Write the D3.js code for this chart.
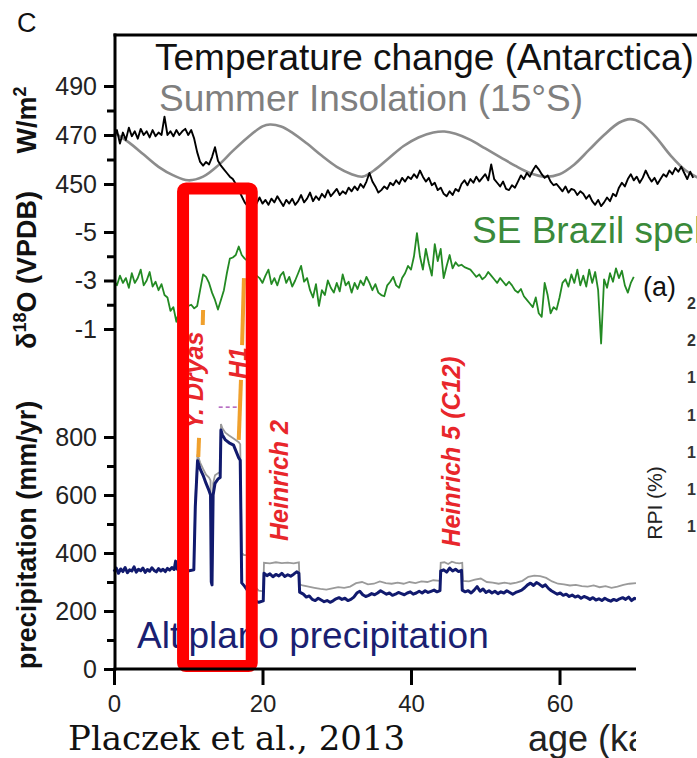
<!DOCTYPE html>
<html><head><meta charset="utf-8">
<script src="https://cdn.jsdelivr.net/npm/d3@7"></script>
<style>body{margin:0;background:#fff} svg{display:block}</style>
</head><body>
<script>
// ---------------- DATA ----------------
const xTicks = [0, 20, 40, 60];
const insTicksMajor = [450, 470, 490], insTicksMinor = [460, 480];
const o18TicksMajor = [-5, -3, -1], o18TicksMinor = [-4, -2];
const precTicksMajor = [0, 200, 400, 600, 800], precTicksMinor = [100, 300, 500, 700];

// Summer insolation 15°S (W/m2)
const insAge = [0,2,4,6,8,10,12,14,16,18,20,21,22.5,24,26,28,30,32,33.5,35,37,39,41,43,44.5,46,48,50,52,54,56,58,60,62,64,66,68,69.5,71,73,75,77,79];
const insVal = [471,467,462,457,453.5,451.5,453,457.5,463.5,469,473.5,474.3,473.5,471,466.5,461.5,457,454,453,455.5,460.5,465.5,469,471,471.4,470.5,468,464.5,461,457.5,454.5,453,454,458,464,470,475,476.5,475,469,461.5,455.5,452];

// Antarctic temperature (plotted on W/m2 axis), sampled every 0.4 ka from 0
const tempStep = 0.4;
const tempVal = [
 469,472,466.5,471,468,473,469.5,471.5,468.5,472.5,470,471.5,469,472,469.5,471,470,477.5,470,471.5,469.5,472,470,471.5,472.5,
 470,472,468.5,463,459,457.5,459,458,461,465,459.5,457.5,456,454.5,453,452,450,447.5,445,442.5,441,441.5,443,442,444.5,
 442,443.5,441.5,444,442.5,445,443,441,443.5,442,444,441.5,443,445.5,442.5,444,446.5,443,445,443.5,446,444.5,447.5,445,446.5,
 448,445.5,447,446,448.5,447,449,447.5,450,448.5,451,454.5,451,449,446.5,447.5,449,448,450.5,449.5,451.5,450,452.5,451,453,
 452,454,452.5,455.5,453,451,452.5,449.5,450.5,447.5,448.5,446,445,447,445.5,448,447,450,451.5,449.5,452,450.5,453,451,452.5,
 454,451.5,458,452,450.5,449,451,448,447.5,449.5,448.5,451,453.5,452,454.5,453,455.5,457.5,456,454,452.5,453.5,451,449.5,450,
 448.5,447,449,446.5,448,447.5,445.5,447,446,444,445.5,443,441.5,443.5,441,442.5,444.5,443,446,445,448.5,450.5,449,452,454,
 451.5,453,450.5,452.5,455.5,453,451,452.5,450,452,454,453,455.5,454,456.5,455,457,454.5,452,455,452.5
];

// SE Brazil speleothem d18O (permil VPDB), sampled every 0.4 ka from 0
const o18Step = 0.4;
const o18Val = [
 -3.0,-2.8,-3.2,-2.9,-3.1,-2.7,-3.3,-2.9,-3.1,-3.45,-2.8,-3.0,-3.35,-2.75,-2.95,-2.6,-2.85,-2.4,-2.3,-1.75,-1.9,-1.3,-1.8,-2.0,-2.05,
 -1.95,-2.0,-1.85,-1.95,-2.6,-3.25,-3.15,-2.9,-2.5,-2.2,-1.8,-2.2,-2.6,-3.3,-3.9,-3.95,-4.05,-4.4,-4.05,-3.9,-3.8,-3.6,-3.4,-3.2,-3.1,
 -2.9,-3.2,-3.45,-2.85,-3.1,-2.8,-3.2,-3.35,-2.9,-3.15,-2.75,-3.0,-3.3,-3.6,-2.95,-3.1,-2.6,-2.3,-2.85,-1.95,-2.6,-2.4,-3.0,-2.7,-2.5,
 -2.9,-2.55,-3.25,-2.8,-2.95,-2.5,-2.9,-2.65,-3.0,-2.8,-3.15,-2.9,-2.6,-2.85,-2.5,-2.4,-2.35,-2.8,-2.95,-3.15,-2.8,-2.7,-3.1,-3.3,-3.6,
 -3.45,-4.0,-4.95,-4.0,-3.45,-4.3,-3.7,-3.2,-4.5,-3.8,-4.3,-3.1,-3.6,-4.05,-3.5,-3.75,-3.6,-3.65,-3.55,-3.5,-3.45,-3.3,-3.15,-3.25,-3.05,
 -3.15,-3.35,-3.2,-3.05,-2.9,-3.1,-2.95,-2.8,-2.95,-2.8,-2.6,-2.5,-2.65,-2.35,-2.2,-2.05,-1.9,-2.3,-1.65,-1.5,-2.9,-2.4,-1.65,-1.9,-1.8,
 -2.3,-2.9,-3.05,-2.75,-3.25,-2.9,-3.45,-2.8,-3.2,-2.75,-3.45,-2.9,-3.35,-2.6,-0.4,-3.05,-2.7,-3.3,-2.95,-3.5,-3.1,-3.4,-2.8,-2.5,-2.9,
 -3.15
];

// Altiplano precipitation (mm/yr), best estimate
const precAge = [0,0.3,0.6,0.9,1.2,1.5,1.8,2.1,2.4,2.7,3.0,3.3,3.6,3.9,4.2,4.5,4.8,5.1,5.4,5.7,6.0,6.3,6.6,6.9,7.2,7.5,7.8,8.1,8.3,8.5,8.8,9.1,9.4,9.7,10.0,10.3,10.75,
 10.95,11.25,11.6,12.0,12.4,12.8,13.0,13.1,13.2,13.35,13.6,14.0,14.3,14.4,14.6,15.0,15.5,16.1,16.8,17.0,17.2,17.6,18.0,18.5,19.5,20.1,
 20.2,20.6,21.0,21.4,21.8,22.2,22.6,23.0,23.4,23.8,24.2,24.6,24.9,25.0,
 25.5,25.9,26.3,26.7,27.1,27.5,27.9,28.3,28.7,29.1,29.5,29.9,30.3,30.7,31.1,31.5,31.9,32.3,32.7,33.1,33.5,33.9,34.3,34.7,35.1,35.5,35.9,36.3,36.7,37.1,37.5,37.9,38.3,38.7,39.1,39.5,39.9,40.3,40.7,41.1,41.5,41.9,42.3,42.7,43.1,43.5,43.9,
 44.0,44.4,44.8,45.2,45.6,46.0,46.4,46.8,46.9,
 47.3,47.7,48.1,48.5,48.9,49.3,49.7,50.1,50.5,50.9,51.3,51.7,52.1,52.5,52.9,53.3,53.7,54.1,54.5,54.9,55.3,55.7,56.1,56.5,56.9,57.3,57.7,58.1,58.5,58.9,59.3,59.7,
 60.1,60.5,60.9,61.3,61.7,62.1,62.5,62.9,63.3,63.7,64.1,64.5,64.9,65.3,65.7,66.1,66.5,66.9,67.3,67.7,68.1,68.5,68.9,69.3,69.7,70.1,70.3];
const precVal = [335,348,330,345,336,350,332,342,338,352,334,344,339,348,333,343,337,349,340,335,346,338,344,336,347,341,350,343,372,345,339,341,337,342,338,340,342,
 560,718,690,668,640,615,600,300,290,600,640,655,660,824,807,790,780,772,728,720,297,285,270,240,230,235,
 330,322,328,318,326,321,330,319,325,320,327,335,330,265,
 258,248,252,240,236,244,238,232,236,230,235,242,246,240,244,236,240,248,262,268,256,250,254,260,256,262,270,264,258,262,254,258,264,260,256,262,266,258,262,268,262,270,264,268,272,266,270,
 338,342,334,348,338,344,336,340,272,
 266,270,262,272,284,268,276,264,270,262,268,260,266,262,270,264,258,264,268,272,280,290,296,288,298,292,284,290,278,270,264,258,
 262,254,258,250,255,248,252,244,250,246,240,246,238,242,236,244,238,234,240,236,242,246,240,248,236,244,240];

// Upper estimate (grey)
const upAge = [10.75,10.95,11.25,11.6,12.0,12.4,12.8,13.0,13.1,13.2,13.35,13.6,14.0,14.3,14.4,14.6,15.0,15.5,16.1,16.8,17.0,17.2,17.5,18.2,18.3,19.5,20.1,
 20.2,21.0,21.8,22.6,23.4,24.2,24.9,25.0,25.4,26.2,27.0,27.8,28.6,29.4,30.2,31.0,31.8,32.6,33.4,34.2,35.0,35.8,36.6,37.4,38.2,39.0,39.8,40.6,41.4,42.2,43.0,43.9,
 44.0,44.5,45.0,45.5,46.0,46.5,46.9,47.0,47.8,48.6,49.4,50.2,51.0,51.8,52.6,53.4,54.2,55.0,55.8,56.6,57.4,58.2,59.0,59.8,60.6,61.4,62.2,63.0,63.8,64.6,65.4,66.2,67.0,67.8,68.6,69.4,70.3];
const upVal = [350,580,740,712,690,670,660,650,310,300,640,668,675,680,845,830,815,805,795,782,775,400,393,393,300,270,268,
 366,364,368,365,367,364,368,292,288,284,280,276,274,278,282,280,284,296,300,292,294,302,296,294,298,294,300,296,302,300,306,304,
 366,368,362,370,366,364,366,304,302,308,312,300,298,294,298,294,298,304,318,322,320,314,302,294,292,288,290,286,284,288,282,286,280,284,290,294,296];

// Annotation markers (age ka, value on precipitation scale)
const ydAge = [12.0, 11.95, 11.45, 11.35], ydVal = [1238, 1186, 797, 731];
const h1Age = [17.5, 17.25, 17.1, 16.8], h1Val = [1348, 1117, 997, 790];
const dashAge = [14.1, 16.8], dashVal = [903, 903];
const boxAge = [9.3, 18.55], boxVal = [10, 1657];
const eventLabels = [
  {text: "Y. Dryas", age: 12.05, val: 995},
  {text: "H1", age: 17.95, val: 1055},
  {text: "Heinrich 2", age: 23.5, val: 650},
  {text: "Heinrich 5 (C12)", age: 46.6, val: 750}
];
const rpiTicks = ["2", "2", "1", "1", "1", "1", "1"];

// ---------------- CHART ----------------
const W = 697, H = 758;
const svg = d3.select("body").append("svg").attr("width", W).attr("height", H)
  .style("font-family", "'Liberation Sans', Arial, Helvetica, sans-serif");

const x = d3.scaleLinear().domain([0, 70.3]).range([114, 636]);
const yIns = d3.scaleLinear().domain([450, 490]).range([184, 86]);
const yO = d3.scaleLinear().domain([-5, -1]).range([232, 329]);
const yP = d3.scaleLinear().domain([0, 800]).range([669, 437]);
const frameTop = 35, spineX = 115;

// insolation
svg.append("path").datum(insAge.map((a, i) => [a, insVal[i]]))
  .attr("fill", "none").attr("stroke", "#8c8c8c").attr("stroke-width", 2.6)
  .attr("d", d3.line().x(d => x(d[0])).y(d => yIns(d[1])).curve(d3.curveCatmullRom));
// temperature
svg.append("path").datum(tempVal.map((v, i) => [i * tempStep, v]))
  .attr("fill", "none").attr("stroke", "#000").attr("stroke-width", 1.9).attr("stroke-linejoin", "round")
  .attr("d", d3.line().x(d => x(d[0])).y(d => yIns(d[1])));
// d18O
svg.append("path").datum(o18Val.map((v, i) => [i * o18Step, v]))
  .attr("fill", "none").attr("stroke", "#238a23").attr("stroke-width", 1.8).attr("stroke-linejoin", "round")
  .attr("d", d3.line().x(d => x(d[0])).y(d => yO(d[1])));
// precipitation upper
svg.append("path").datum(upAge.map((a, i) => [a, upVal[i]]))
  .attr("fill", "none").attr("stroke", "#9a9a9a").attr("stroke-width", 1.8)
  .attr("d", d3.line().x(d => x(d[0])).y(d => yP(d[1])));
// precipitation
svg.append("path").datum(precAge.map((a, i) => [a, precVal[i]]))
  .attr("fill", "none").attr("stroke", "#111a6e").attr("stroke-width", 3).attr("stroke-linejoin", "round")
  .attr("d", d3.line().x(d => x(d[0])).y(d => yP(d[1])));

// orange markers
const segs = [[ydAge, ydVal, 0], [ydAge, ydVal, 2], [h1Age, h1Val, 0], [h1Age, h1Val, 2]];
segs.forEach(([A, V, k]) => {
  svg.append("line").attr("x1", x(A[k])).attr("y1", yP(V[k])).attr("x2", x(A[k + 1])).attr("y2", yP(V[k + 1]))
    .attr("stroke", "#f0a02c").attr("stroke-width", 4);
});
svg.append("line").attr("x1", x(dashAge[0])).attr("x2", x(dashAge[1]))
  .attr("y1", yP(dashVal[0])).attr("y2", yP(dashVal[1]))
  .attr("stroke", "#a040b0").attr("stroke-width", 1.3).attr("stroke-dasharray", "4,3");

// event labels
eventLabels.forEach(e => {
  svg.append("text").attr("transform", `translate(${x(e.age)},${yP(e.val)}) rotate(-90)`)
    .attr("text-anchor", "middle").attr("font-size", 25).attr("font-weight", "bold")
    .attr("font-style", "italic").attr("fill", "#e8262b").text(e.text);
});

// series labels
svg.append("text").attr("x", 155).attr("y", 70).attr("font-size", 37).attr("fill", "#111").text("Temperature change (Antarctica)");
svg.append("text").attr("x", 159).attr("y", 111).attr("font-size", 37).attr("fill", "#7f7f7f").text("Summer Insolation (15°S)");
svg.append("text").attr("x", 472).attr("y", 243).attr("font-size", 37).attr("fill", "#3a8a3a").text("SE Brazil speleothems");
svg.append("text").attr("x", 137).attr("y", 648).attr("font-size", 37).attr("fill", "#1a1f72").text("Altiplano precipitation");

// red highlight box
svg.append("rect").attr("x", x(boxAge[0])).attr("y", yP(boxVal[1]))
  .attr("width", x(boxAge[1]) - x(boxAge[0])).attr("height", yP(boxVal[0]) - yP(boxVal[1]))
  .attr("rx", 3).attr("fill", "none").attr("stroke", "#ff0000").attr("stroke-width", 12);

// axes
function yAxis(scale, major, minor) {
  const g = svg.append("g").attr("transform", `translate(${spineX},0)`)
    .call(d3.axisLeft(scale).tickValues(major).tickSize(11).tickPadding(7).tickFormat(d => String(d)));
  g.select(".domain").remove();
  g.selectAll("line").attr("stroke-width", 3);
  g.selectAll("text").attr("font-size", 25).attr("font-family", "'Liberation Sans', Arial, sans-serif").attr("fill", "#222");
  const m = svg.append("g").attr("transform", `translate(${spineX},0)`)
    .call(d3.axisLeft(scale).tickValues(minor).tickSize(8).tickFormat(""));
  m.select(".domain").remove();
  m.selectAll("line").attr("stroke-width", 3);
}
yAxis(yIns, insTicksMajor, insTicksMinor);
yAxis(yO, o18TicksMajor, o18TicksMinor);
yAxis(yP, precTicksMajor, precTicksMinor);
svg.append("line").attr("x1", spineX).attr("x2", spineX).attr("y1", frameTop - 1.5).attr("y2", yP(0) + 1.5)
  .attr("stroke", "#000").attr("stroke-width", 3);
svg.append("line").attr("x1", spineX - 1.5).attr("x2", W).attr("y1", frameTop).attr("y2", frameTop)
  .attr("stroke", "#000").attr("stroke-width", 3);

const xa = svg.append("g").attr("transform", `translate(0,${yP(0)})`)
  .call(d3.axisBottom(x).tickValues(xTicks).tickSize(16).tickPadding(10).tickFormat(d => String(d)));
xa.select(".domain").remove();
xa.selectAll("line").attr("stroke-width", 3);
xa.selectAll("text").attr("font-size", 24).attr("font-family", "'Liberation Sans', Arial, sans-serif").attr("fill", "#222");
svg.append("line").attr("x1", spineX - 1.5).attr("x2", W).attr("y1", yP(0)).attr("y2", yP(0))
  .attr("stroke", "#000").attr("stroke-width", 3);

// axis titles
const titleFont = 27;
svg.append("text").attr("transform", `translate(36,120) rotate(-90)`).attr("text-anchor", "middle")
  .attr("font-size", titleFont).attr("font-weight", "bold").attr("fill", "#111")
  .html('W/m<tspan dy="-10" font-size="18">2</tspan>');
svg.append("text").attr("transform", `translate(36,270) rotate(-90)`).attr("text-anchor", "middle")
  .attr("font-size", titleFont).attr("font-weight", "bold").attr("fill", "#111")
  .html('δ<tspan dy="-10" font-size="18">18</tspan><tspan dy="10">O (VPDB)</tspan>');
svg.append("text").attr("transform", `translate(36,535) rotate(-90)`).attr("text-anchor", "middle")
  .attr("font-size", titleFont).attr("font-weight", "bold").attr("fill", "#111").text("precipitation (mm/yr)");

svg.append("text").attr("x", 528).attr("y", 751).attr("font-size", 36).attr("fill", "#222").text("age (ka)");
svg.append("text").attr("x", 68).attr("y", 750).attr("font-size", 34)
  .attr("font-family", "'DejaVu Serif', 'Liberation Serif', serif").attr("fill", "#111").text("Placzek et al., 2013");
svg.append("text").attr("x", 17).attr("y", 32).attr("font-size", 27).attr("fill", "#111").text("C");

// overlapping panel (a)
svg.append("rect").attr("x", 636).attr("y", 255).attr("width", W - 636).attr("height", H - 255).attr("fill", "#fff");
svg.append("text").attr("x", 643).attr("y", 296).attr("font-size", 27).attr("fill", "#111").text("(a)");
svg.append("g").selectAll("text").data(rpiTicks).join("text")
  .attr("x", 687).attr("y", (d, i) => 309 + i * 37.2).attr("font-size", 16).attr("font-weight", "bold")
  .attr("fill", "#333").text(d => d);
svg.append("text").attr("transform", "translate(662,503) rotate(-90)").attr("text-anchor", "middle")
  .attr("font-size", 21).attr("fill", "#222").text("RPI (%)");
</script>
</body></html>
